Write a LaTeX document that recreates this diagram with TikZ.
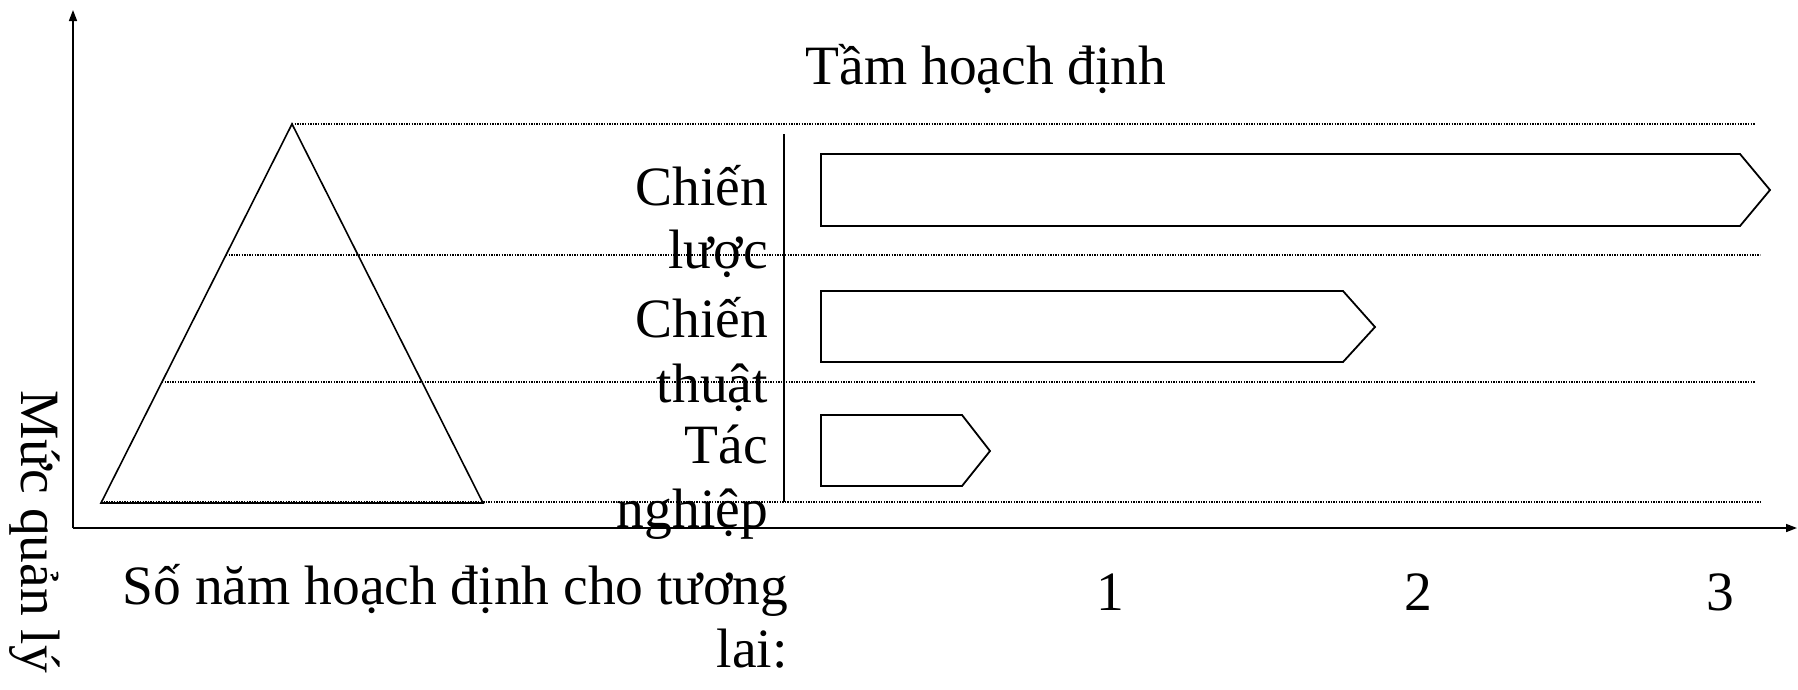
\documentclass[tikz,border=0pt]{standalone}
\usepackage{fontspec}
\setmainfont{Liberation Serif}
\usetikzlibrary{arrows.meta}
\tikzset{
  axisline/.style={line width=1.6pt,-{Triangle[length=11pt,width=8pt]}},
  solidline/.style={line width=1.6pt},
  dotline/.style={line width=1.3pt,dash pattern=on 1.3pt off 1.3pt},
  boxline/.style={line width=1.8pt},
  txt/.style={inner sep=0pt,font=\fontsize{55.5}{63}\selectfont},
}
\begin{document}
\begin{tikzpicture}[x=1pt,y=-1pt]
\useasboundingbox (0,0) rectangle (1798,689);
% axes
\coordinate (O) at (73,528);
\coordinate (ytop) at (73,10);
\coordinate (xend) at (1797,528);
\draw[axisline] (O) -- (ytop);
\draw[axisline] (O) -- (xend);
% triangle
\coordinate (apex) at (292,124);
\coordinate (bl) at (101,503);
\coordinate (br) at (483,503);
\draw[solidline,line join=miter] (bl) -- (apex) -- (br) -- cycle;
% dotted level lines
\coordinate (d1a) at (292,124);  \coordinate (d1b) at (1755,124);
\coordinate (d2a) at (226,255);  \coordinate (d2b) at (1760,255);
\coordinate (d3a) at (162,382);  \coordinate (d3b) at (1755,382);
\coordinate (d4a) at (101,502);  \coordinate (d4b) at (1760,502);
\draw[dotline] (d1a) -- (d1b);
\draw[dotline] (d2a) -- (d2b);
\draw[dotline] (d3a) -- (d3b);
\draw[dotline] (d4a) -- (d4b);
% vertical separator
\coordinate (vs1) at (784,134);
\coordinate (vs2) at (784,502);
\draw[solidline] (vs1) -- (vs2);
% horizon arrows
\draw[boxline,line join=miter] (821,154) -- (1740,154) -- (1770,190) -- (1740,226) -- (821,226) -- cycle;
\draw[boxline,line join=miter] (821,291) -- (1343,291) -- (1375,327) -- (1343,362) -- (821,362) -- cycle;
\draw[boxline,line join=miter] (821,415) -- (962,415) -- (990,451) -- (962,486) -- (821,486) -- cycle;
% title
\node[txt,anchor=base] (title) at (986,84) {Tầm hoạch định};
% level labels
\node[txt,anchor=base east] (l1a) at (768,205) {Chiến};
\node[txt,anchor=base east] (l1b) at (768,268) {lược};
\node[txt,anchor=base east] (l2a) at (768,337) {Chiến};
\node[txt,anchor=base east] (l2b) at (768,402) {thuật};
\node[txt,anchor=base east] (l3a) at (768,463) {Tác};
\node[txt,anchor=base east] (l3b) at (768,527) {nghiệp};
% x label
\node[txt,anchor=base east] (xl1) at (788,604) {Số năm hoạch định cho tương};
\node[txt,anchor=base east] (xl2) at (788,667) {lai:};
% numbers
\node[txt,anchor=base] (n1) at (1110,610) {1};
\node[txt,anchor=base] (n2) at (1418,610) {2};
\node[txt,anchor=base] (n3) at (1720,610) {3};
% y label
\node[txt,anchor=base west,rotate=-90] (yl) at (21,390) {Mức quản lý};
\end{tikzpicture}
\end{document}
